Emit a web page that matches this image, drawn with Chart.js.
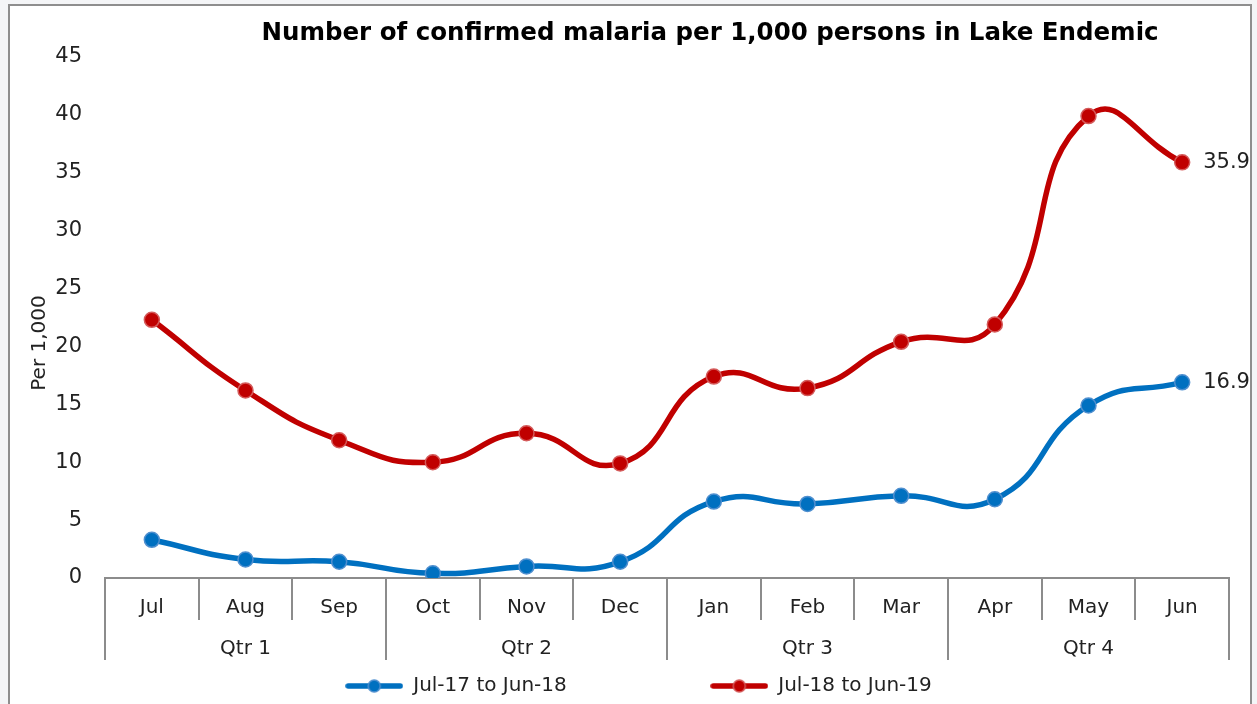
<!DOCTYPE html>
<html><head><meta charset="utf-8">
<script src="https://cdn.jsdelivr.net/npm/chart.js@4.4.1/dist/chart.umd.min.js"></script>
<style>
html,body{margin:0;padding:0;background:#f4f5f7;overflow:hidden;}
#box{position:absolute;left:8px;top:4px;width:1240px;height:720px;border:2px solid #8e8e8e;background:#fff;}
canvas{position:absolute;left:0;top:0;}
</style></head><body>
<div id="box"><canvas id="c" width="1240" height="700"></canvas></div>
<script>
const titleText = 'Number of confirmed malaria per 1,000 persons in Lake Endemic';
const months = ['Jul','Aug','Sep','Oct','Nov','Dec','Jan','Feb','Mar','Apr','May','Jun'];
const quarters = ['Qtr 1','Qtr 2','Qtr 3','Qtr 4'];
const series1Name = 'Jul-17 to Jun-18';
const series2Name = 'Jul-18 to Jun-19';
const series1 = [3.3, 1.6, 1.4, 0.4, 1.0, 1.4, 6.6, 6.4, 7.1, 6.8, 14.9, 16.9];
const series2 = [22.3, 16.2, 11.9, 10.0, 12.5, 9.9, 17.4, 16.4, 20.4, 21.9, 39.9, 35.9];
const yMin = 0, yMax = 45, yStep = 5;
const yTitle = 'Per 1,000';

const FONT = '"DejaVu Sans"';
const TXT = '#222';
const AXIS = '#8c8c8c';
const BLUE = '#0070C0', BLUE_B = '#4f8fcf';
const RED = '#C00000', RED_B = '#d45a5a';

function legendIcon(color, border){
  const c = document.createElement('canvas'); c.width = 58; c.height = 16;
  const g = c.getContext('2d');
  g.strokeStyle = color; g.lineWidth = 5.5; g.lineCap = 'round';
  g.beginPath(); g.moveTo(3, 8); g.lineTo(55, 8); g.stroke();
  g.beginPath(); g.arc(29, 8, 6, 0, Math.PI*2); g.fillStyle = color; g.fill();
  g.lineWidth = 1.5; g.strokeStyle = border; g.stroke();
  return c;
}
const icons = [legendIcon(BLUE, BLUE_B), legendIcon(RED, RED_B)];

const overlay = {
  id: 'overlay',
  afterDraw(chart){
    const ctx = chart.ctx;
    ctx.save();
    ctx.fillStyle = '#000';
    ctx.font = 'bold 24.5px ' + FONT;
    ctx.textAlign = 'center'; ctx.textBaseline = 'middle';
    ctx.fillText(titleText, 700, 28);
    ctx.restore();
    ctx.save();
    ctx.fillStyle = TXT; ctx.font = '20px ' + FONT;
    ctx.textAlign = 'center'; ctx.textBaseline = 'middle';
    ctx.translate(30, 337); ctx.rotate(-Math.PI/2);
    ctx.fillText(yTitle, 0, 0);
    ctx.restore();
    chart.data.datasets.forEach((ds, i) => {
      const meta = chart.getDatasetMeta(i);
      const last = meta.data[meta.data.length - 1];
      ctx.save();
      ctx.font = '21px ' + FONT; ctx.fillStyle = TXT;
      ctx.textAlign = 'left'; ctx.textBaseline = 'middle';
      ctx.fillText(ds.data[ds.data.length - 1].toFixed(1), last.x + 21, last.y);
      ctx.restore();
    });
  }
};

const mkSet = (label, data, c, b) => ({
  label, data, xAxisID: 'x', yAxisID: 'y',
  borderColor: c, backgroundColor: c, borderWidth: 5.5, tension: 0.5,
  borderCapStyle: 'round', borderJoinStyle: 'round',
  pointRadius: 7.5, pointHoverRadius: 7.5, pointBackgroundColor: c,
  pointBorderColor: b, pointBorderWidth: 1.5, fill: false
});

new Chart(document.getElementById('c'), {
  type: 'line',
  data: {
    labels: months,
    datasets: [mkSet(series1Name, series1, BLUE, BLUE_B), mkSet(series2Name, series2, RED, RED_B)]
  },
  plugins: [overlay],
  options: {
    responsive: false, animation: false,
    layout: { padding: { top: 51, left: 38, right: 21, bottom: 0 } },
    plugins: {
      title: { display: false },
      tooltip: { enabled: false },
      legend: {
        position: 'bottom',
        labels: {
          usePointStyle: true, pointStyleWidth: 58, padding: 10,
          font: { size: 20, family: FONT }, color: TXT,
          generateLabels(chart){
            return chart.data.datasets.map((ds, i) => ({
              text: i === 0 ? ds.label + '\u00a0'.repeat(21) : ds.label,
              pointStyle: icons[i], datasetIndex: i, hidden: false,
              fontColor: TXT, lineWidth: 0, strokeStyle: 'transparent', fillStyle: ds.borderColor
            }));
          }
        }
      }
    },
    scales: {
      y: {
        min: yMin, max: yMax,
        ticks: { stepSize: yStep, padding: 23, font: { size: 21, family: FONT }, color: TXT },
        grid: { display: false, drawTicks: false }, border: { display: false },
        afterFit(s){ s.width = 57; }
      },
      x: {
        type: 'category', position: 'bottom', offset: true, weight: 0,
        grid: { offset: true, drawOnChartArea: false, drawTicks: true, tickLength: 42, color: AXIS, lineWidth: 2 },
        border: { display: true, color: AXIS, width: 2 },
        ticks: { padding: -24, maxRotation: 0, autoSkip: false, font: { size: 20, family: FONT }, color: TXT },
        afterFit(s){ s.height = 42; }
      },
      x2: {
        type: 'category', labels: quarters, position: 'bottom', offset: true, weight: 1,
        grid: { offset: true, drawOnChartArea: false, drawTicks: true, tickLength: 40, color: AXIS, lineWidth: 2 },
        border: { display: false },
        ticks: { padding: -23, maxRotation: 0, autoSkip: false, font: { size: 20, family: FONT }, color: TXT },
        afterFit(s){ s.height = 46; }
      }
    }
  }
});
</script>
</body></html>
